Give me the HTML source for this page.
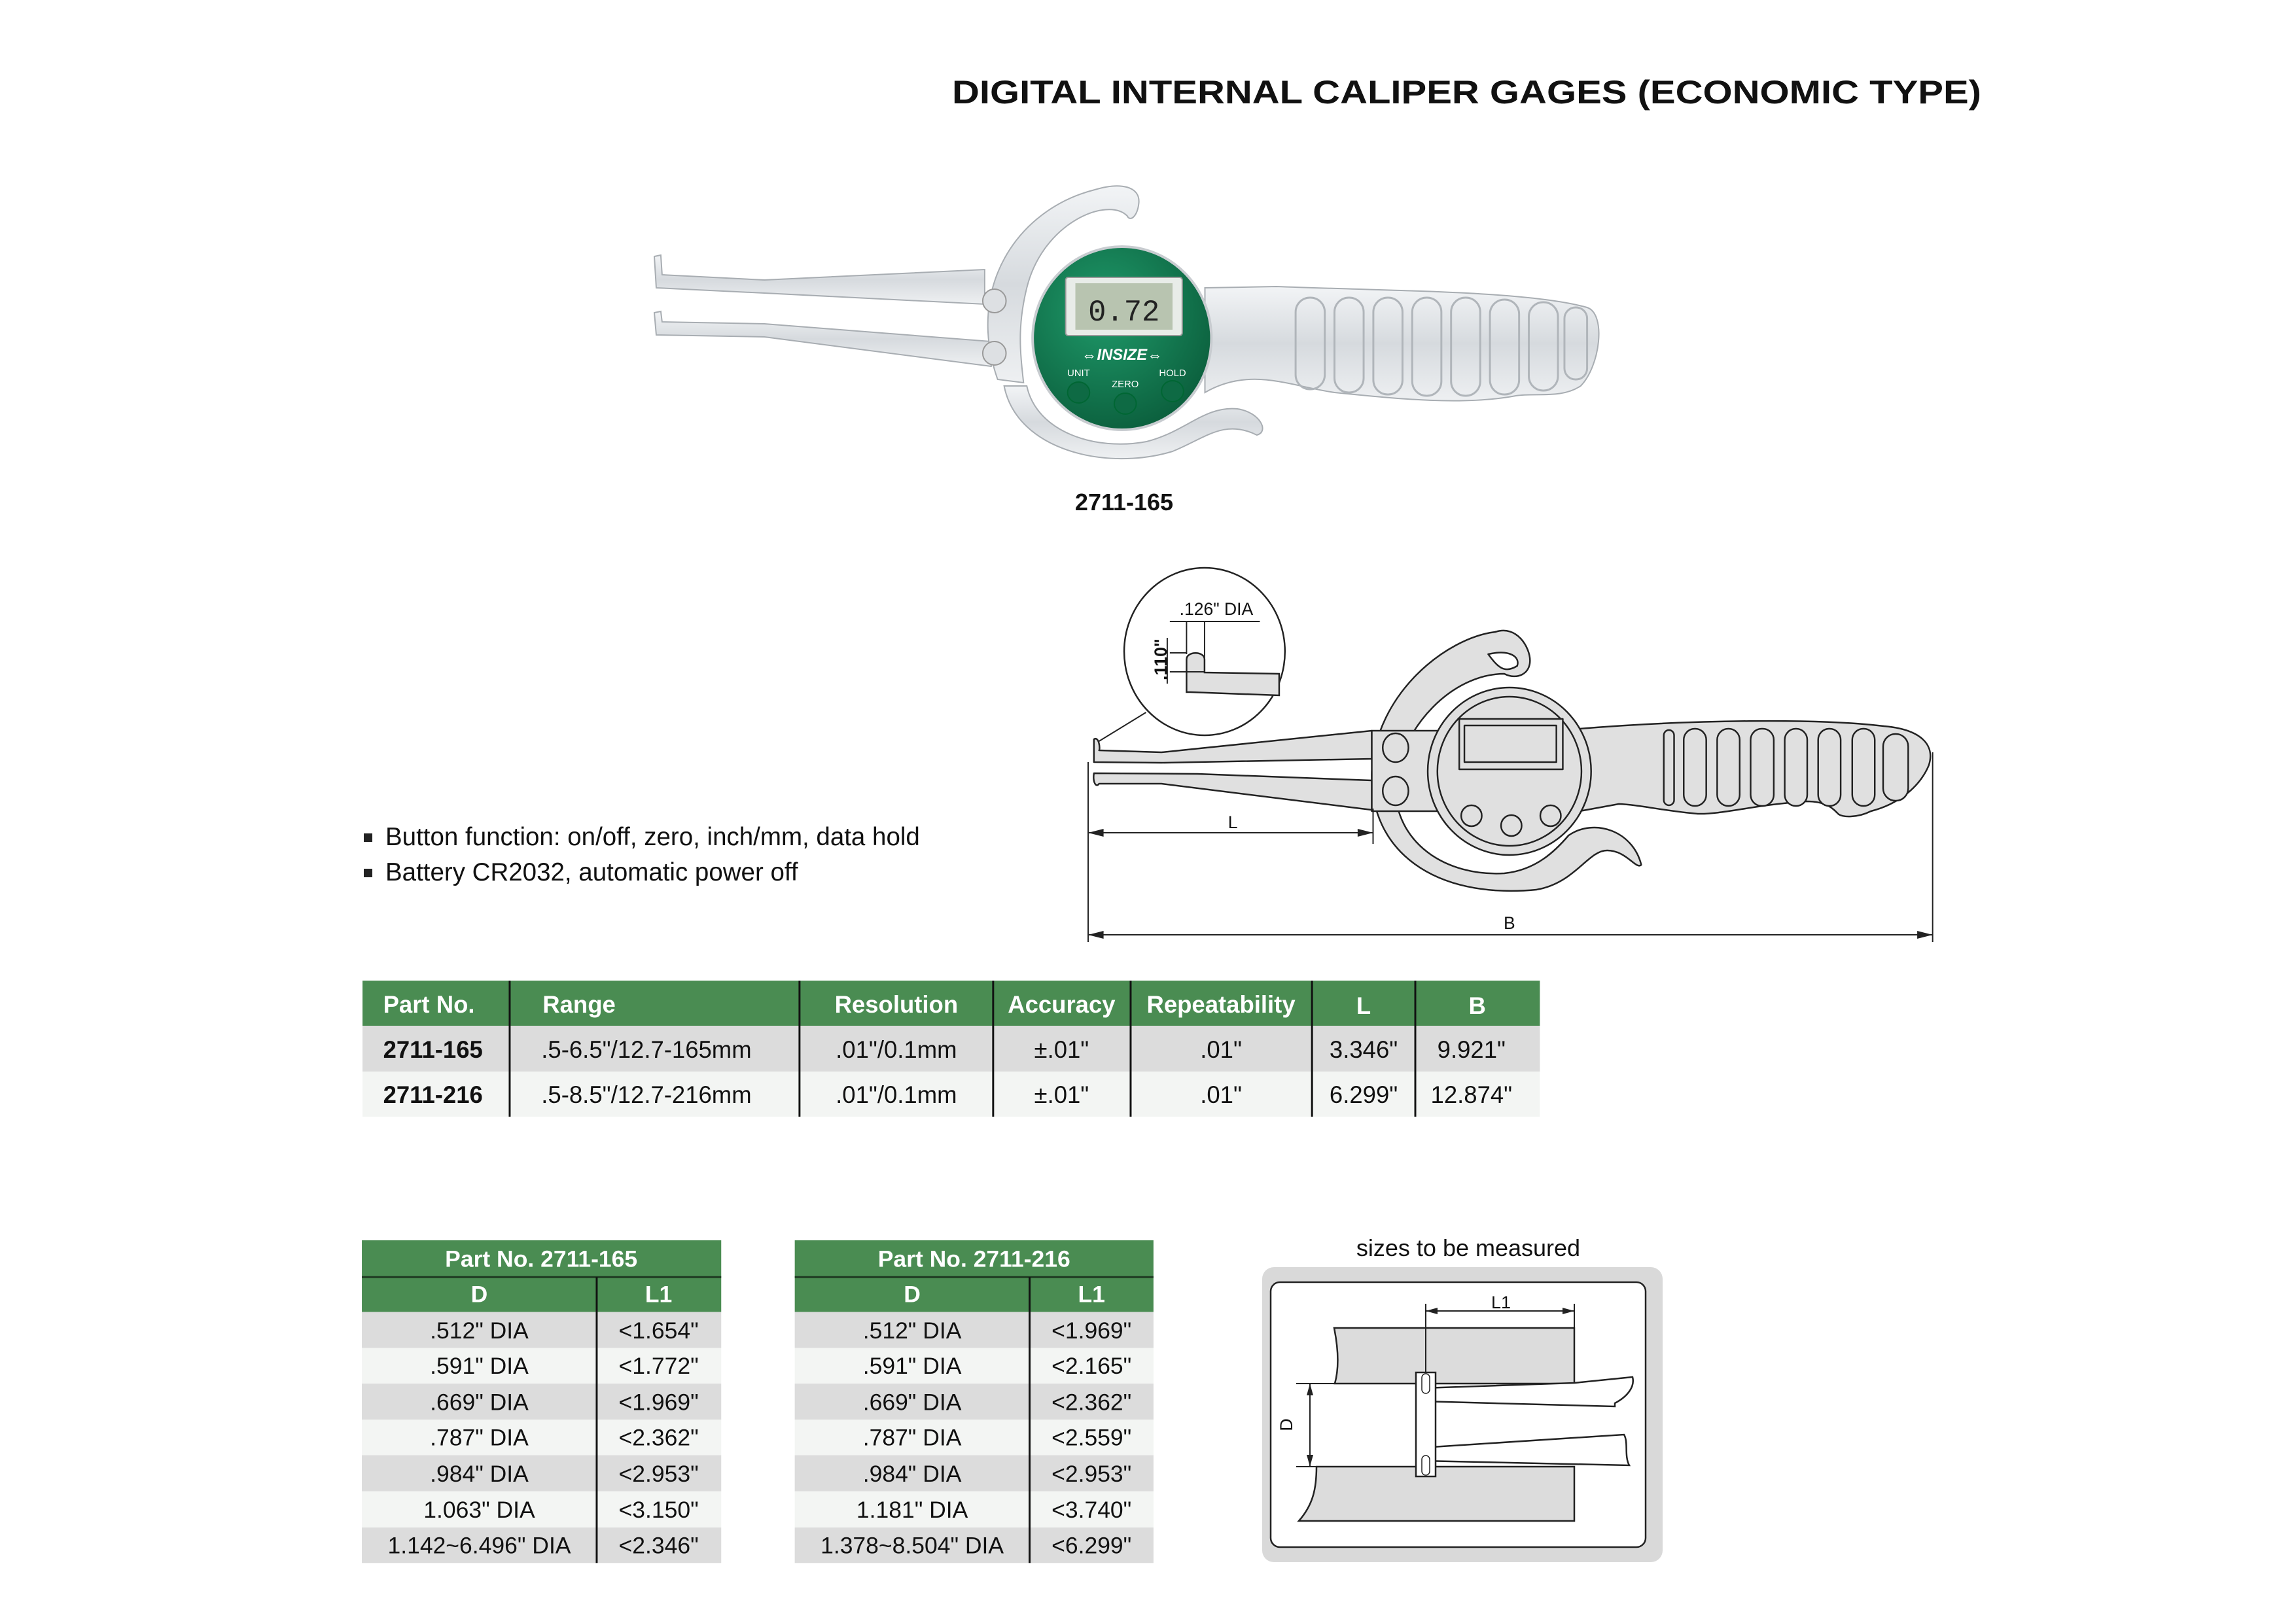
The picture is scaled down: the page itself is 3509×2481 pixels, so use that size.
<!DOCTYPE html>
<html><head><meta charset="utf-8"><style>html,body{margin:0;padding:0;background:#fff}svg{display:block}</style></head>
<body>
<svg xmlns="http://www.w3.org/2000/svg" width="3509" height="2481" viewBox="0 0 3509 2481" font-family="Liberation Sans, Arial, sans-serif">
<defs>
<radialGradient id="gr" cx="0.4" cy="0.35" r="0.7"><stop offset="0" stop-color="#1f9a6a"/><stop offset="1" stop-color="#0b5e3c"/></radialGradient>
<linearGradient id="met" x1="0" y1="0" x2="0" y2="1"><stop offset="0" stop-color="#f2f4f6"/><stop offset="0.5" stop-color="#d6dade"/><stop offset="1" stop-color="#eef0f2"/></linearGradient>
</defs>
<rect width="3509" height="2481" fill="#fff"/>
<text x="1455" y="158" font-size="50" font-weight="bold" textLength="1573" lengthAdjust="spacingAndGlyphs" fill="#111">DIGITAL INTERNAL CALIPER GAGES (ECONOMIC TYPE)</text>

<!-- PHOTO -->
<g transform="translate(1000,0) scale(0.99,1) translate(-1000,0)">
<g stroke="#a8adb2" stroke-width="2">
<path d="M1000,392 L1010,390 L1012,420 L1170,428 L1510,412 L1510,465 L1170,448 L1003,440 Z" fill="url(#met)"/>
<path d="M1000,478 L1010,476 L1012,492 L1170,495 L1520,522 L1520,560 L1170,515 L1003,512 Z" fill="url(#met)"/>
<path d="M1530,580 C1480,440 1560,320 1680,290 C1720,278 1750,285 1748,310 C1746,330 1735,340 1730,330 C1700,300 1600,340 1575,440 C1560,500 1565,540 1570,585 Z" fill="url(#met)"/>
<path d="M1540,590 C1560,690 1700,720 1800,690 C1850,670 1880,640 1930,665 C1950,660 1935,630 1900,625 C1850,620 1820,660 1760,675 C1680,690 1590,660 1575,590 Z" fill="url(#met)"/>
<path d="M1850,440 L1960,438 C2150,445 2350,445 2440,470 C2470,480 2460,560 2430,590 C2400,610 2360,600 2330,605 C2250,620 2150,610 2050,600 C1980,590 1920,560 1850,600 Z" fill="url(#met)"/>
</g>
<g fill="none" stroke="#b0b5ba" stroke-width="3">
<rect x="1990" y="455" width="45" height="140" rx="22"/><rect x="2050" y="455" width="45" height="145" rx="22"/>
<rect x="2110" y="455" width="45" height="148" rx="22"/><rect x="2170" y="455" width="45" height="150" rx="22"/>
<rect x="2230" y="455" width="45" height="150" rx="22"/><rect x="2290" y="458" width="45" height="145" rx="22"/>
<rect x="2350" y="462" width="45" height="135" rx="22"/><rect x="2405" y="470" width="35" height="110" rx="17"/>
</g>
<circle cx="1525" cy="460" r="18" fill="#dde0e3" stroke="#999" stroke-width="2"/>
<circle cx="1525" cy="540" r="18" fill="#dde0e3" stroke="#999" stroke-width="2"/>
<ellipse cx="1722" cy="517" rx="138" ry="140" fill="url(#gr)" stroke="#c8ccd0" stroke-width="4"/>
<rect x="1635" y="424" width="180" height="89" rx="4" fill="#e8ece8" stroke="#999" stroke-width="2"/>
<rect x="1650" y="433" width="150" height="71" fill="#b8c4b0"/>
<text x="1725" y="490" font-size="46" text-anchor="middle" fill="#222" font-family="Liberation Mono, monospace">0.72</text>
<text x="1722" y="550" font-size="24" font-weight="bold" font-style="italic" text-anchor="middle" fill="#fff">⇔INSIZE⇔</text>
<text x="1655" y="575" font-size="15" text-anchor="middle" fill="#fff">UNIT</text>
<text x="1727" y="592" font-size="15" text-anchor="middle" fill="#fff">ZERO</text>
<text x="1800" y="575" font-size="15" text-anchor="middle" fill="#fff">HOLD</text>
<g fill="#0e6a44" stroke="#063" stroke-width="2"><ellipse cx="1655" cy="600" rx="17" ry="16"/><ellipse cx="1727" cy="617" rx="17" ry="16"/><ellipse cx="1800" cy="598" rx="17" ry="16"/></g>
</g>
<text x="1718" y="780" font-size="36" font-weight="bold" text-anchor="middle" fill="#111">2711-165</text>

<!-- LINE DRAWING -->
<g transform="translate(1663,0) scale(0.983,1) translate(-1663,0)">
<g fill="#e0e0e0" stroke="#222" stroke-width="2.5" stroke-linejoin="round">
<path d="M2296,966 C2330,955 2350,990 2350,1010 C2350,1030 2330,1040 2310,1030 C2230,1030 2150,1110 2140,1200 C2140,1290 2220,1340 2310,1335 C2360,1330 2390,1300 2410,1277 C2450,1250 2510,1270 2523,1322 C2515,1330 2500,1300 2470,1300 C2440,1300 2420,1350 2360,1360 C2200,1375 2100,1300 2104,1180 C2110,1060 2220,975 2296,966 Z"/>
<path d="M2285,1000 C2320,992 2335,1005 2330,1018 C2310,1030 2300,1020 2285,1000 Z" fill="#fff"/>
<path d="M1672,1130 C1680,1125 1682,1145 1680,1147 L1777,1150 L2104,1117 L2104,1160 L1777,1166 L1672,1165 Z"/>
<path d="M1672,1182 L1833,1183 L2104,1193 L2104,1238 L2087,1236 L1777,1198 L1680,1198 C1675,1205 1670,1195 1672,1182 Z"/>
<path d="M2427,1114 C2600,1100 2800,1098 2900,1110 C2960,1115 2980,1140 2970,1170 C2955,1205 2920,1230 2880,1240 C2860,1250 2835,1250 2829,1244 C2820,1235 2810,1225 2780,1225 C2700,1230 2650,1245 2611,1244 C2560,1240 2520,1230 2488,1229 L2427,1240 Z"/>
<rect x="2104" y="1117" width="106" height="123"/>
<ellipse cx="2141" cy="1143" rx="20" ry="22"/><ellipse cx="2141" cy="1209" rx="20" ry="22"/>
<ellipse cx="2318" cy="1179" rx="127" ry="128"/>
<ellipse cx="2318" cy="1179" rx="112" ry="114"/>
<rect x="2240" y="1099" width="161" height="77"/><rect x="2248" y="1109" width="143" height="56"/>
<circle cx="2259" cy="1247" r="16"/><circle cx="2321" cy="1262" r="16"/><circle cx="2382" cy="1247" r="16"/>
<rect x="2558" y="1116" width="16" height="115" rx="8"/>
<rect x="2589" y="1114" width="35" height="118" rx="17"/><rect x="2641" y="1114" width="35" height="118" rx="17"/>
<rect x="2693" y="1114" width="36" height="118" rx="17"/><rect x="2746" y="1114" width="35" height="118" rx="17"/>
<rect x="2798" y="1114" width="35" height="118" rx="17"/><rect x="2851" y="1114" width="35" height="118" rx="17"/>
<rect x="2899" y="1122" width="39" height="102" rx="19"/>
</g>
<ellipse cx="1844" cy="996" rx="125" ry="128" fill="#fff" stroke="#222" stroke-width="2.5"/>
<path d="M1816,1058 L1816,1008 C1816,995 1844,995 1844,1008 L1844,1028 L1960,1030 L1960,1063 L1822,1058 Z" fill="#e0e0e0" stroke="#222" stroke-width="2.5"/>
<g stroke="#222" stroke-width="2" fill="#222">
<line x1="1816" y1="950" x2="1816" y2="1000"/><line x1="1844" y1="950" x2="1844" y2="1028"/>
<line x1="1790" y1="950" x2="1930" y2="950"/>
<line x1="1790" y1="998" x2="1816" y2="998"/><line x1="1790" y1="1027" x2="1844" y2="1027"/>
<line x1="1786" y1="975" x2="1786" y2="1045"/>
<line x1="1753" y1="1089" x2="1680" y2="1133"/>
</g>
<text x="1805" y="940" font-size="27" fill="#111">.126" DIA</text>
<text transform="translate(1785,1040) rotate(-90)" font-size="27" font-weight="bold" fill="#111">.110"</text>
<g stroke="#222" stroke-width="2">
<line x1="1663" y1="1165" x2="1663" y2="1440"/><line x1="2106" y1="1236" x2="2106" y2="1290"/><line x1="2976" y1="1150" x2="2976" y2="1440"/>
<line x1="1663" y1="1273" x2="2106" y2="1273"/><line x1="1663" y1="1429" x2="2976" y2="1429"/>
</g>
<g fill="#222"><path d="M1663,1273 l24,-6 v12 z"/><path d="M2106,1273 l-24,-6 v12 z"/><path d="M1663,1429 l24,-6 v12 z"/><path d="M2976,1429 l-24,-6 v12 z"/></g>
<text x="1888" y="1266" font-size="27" text-anchor="middle" fill="#111">L</text>
<text x="2318" y="1420" font-size="27" text-anchor="middle" fill="#111">B</text>
</g>

<!-- bullets -->
<rect x="556" y="1274" width="13" height="13" fill="#222"/>
<rect x="556" y="1328" width="13" height="13" fill="#222"/>
<text x="589" y="1292" font-size="38.5" fill="#111">Button function: on/off, zero, inch/mm, data hold</text>
<text x="589" y="1346" font-size="38.5" fill="#111">Battery CR2032, automatic power off</text>

<!-- MAIN TABLE -->
<g transform="translate(556,0) scale(0.9865,1) translate(-556,0)">
<rect x="554" y="1499" width="1824" height="69" fill="#4a8c52"/>
<rect x="554" y="1568" width="1824" height="70" fill="#dcdcdc"/>
<rect x="554" y="1638" width="1824" height="69" fill="#f3f5f3"/>
<g stroke="#111" stroke-width="3"><line x1="782" y1="1499" x2="782" y2="1707"/><line x1="1231" y1="1499" x2="1231" y2="1707"/><line x1="1531" y1="1499" x2="1531" y2="1707"/><line x1="1744" y1="1499" x2="1744" y2="1707"/><line x1="2025" y1="1499" x2="2025" y2="1707"/><line x1="2185" y1="1499" x2="2185" y2="1707"/></g>
<g font-size="37" font-weight="bold" fill="#fff">
<text x="586" y="1548">Part No.</text><text x="833" y="1548">Range</text>
<text x="1381" y="1548" text-anchor="middle">Resolution</text><text x="1637" y="1548" text-anchor="middle">Accuracy</text>
<text x="1884" y="1548" text-anchor="middle">Repeatability</text><text x="2105" y="1550" text-anchor="middle">L</text><text x="2281" y="1550" text-anchor="middle">B</text>
</g>
<g font-size="37" fill="#111">
<text x="586" y="1617" font-weight="bold">2711-165</text><text x="831" y="1617">.5-6.5"/12.7-165mm</text>
<text x="1381" y="1617" text-anchor="middle">.01"/0.1mm</text><text x="1637" y="1617" text-anchor="middle">±.01"</text>
<text x="1884" y="1617" text-anchor="middle">.01"</text><text x="2105" y="1617" text-anchor="middle">3.346"</text><text x="2272" y="1617" text-anchor="middle">9.921"</text>
<text x="586" y="1686" font-weight="bold">2711-216</text><text x="831" y="1686">.5-8.5"/12.7-216mm</text>
<text x="1381" y="1686" text-anchor="middle">.01"/0.1mm</text><text x="1637" y="1686" text-anchor="middle">±.01"</text>
<text x="1884" y="1686" text-anchor="middle">.01"</text><text x="2105" y="1686" text-anchor="middle">6.299"</text><text x="2272" y="1686" text-anchor="middle">12.874"</text>
</g>
</g>

<g transform="translate(556,1896) scale(0.986,0.9865) translate(-556,-1896)">
<!-- SMALL TABLE 1 -->
<g>
<rect x="553" y="1896" width="557" height="111" fill="#4a8c52"/>
<line x1="553" y1="1953" x2="1110" y2="1953" stroke="#1f3a22" stroke-width="3"/>
<rect x="553" y="2007" width="557" height="56" fill="#dcdcdc"/><rect x="553" y="2063" width="557" height="55" fill="#f3f5f3"/>
<rect x="553" y="2118" width="557" height="56" fill="#dcdcdc"/><rect x="553" y="2174" width="557" height="55" fill="#f3f5f3"/>
<rect x="553" y="2229" width="557" height="56" fill="#dcdcdc"/><rect x="553" y="2285" width="557" height="56" fill="#f3f5f3"/>
<rect x="553" y="2341" width="557" height="55" fill="#dcdcdc"/>
<line x1="917" y1="1953" x2="917" y2="2396" stroke="#111" stroke-width="3"/>
<g font-size="36" font-weight="bold" fill="#fff" text-anchor="middle"><text x="831" y="1937">Part No. 2711-165</text><text x="735" y="1992">D</text><text x="1013" y="1992">L1</text></g>
<g font-size="36" fill="#111" text-anchor="middle">
<text x="735" y="2048">.512" DIA</text><text x="1013" y="2048">&lt;1.654"</text>
<text x="735" y="2103">.591" DIA</text><text x="1013" y="2103">&lt;1.772"</text>
<text x="735" y="2159">.669" DIA</text><text x="1013" y="2159">&lt;1.969"</text>
<text x="735" y="2214">.787" DIA</text><text x="1013" y="2214">&lt;2.362"</text>
<text x="735" y="2270">.984" DIA</text><text x="1013" y="2270">&lt;2.953"</text>
<text x="735" y="2326">1.063" DIA</text><text x="1013" y="2326">&lt;3.150"</text>
<text x="735" y="2381">1.142~6.496" DIA</text><text x="1013" y="2381">&lt;2.346"</text>
</g>
</g>
<!-- SMALL TABLE 2 -->
<g>
<rect x="1224" y="1896" width="556" height="111" fill="#4a8c52"/>
<line x1="1224" y1="1953" x2="1780" y2="1953" stroke="#1f3a22" stroke-width="3"/>
<rect x="1224" y="2007" width="556" height="56" fill="#dcdcdc"/><rect x="1224" y="2063" width="556" height="55" fill="#f3f5f3"/>
<rect x="1224" y="2118" width="556" height="56" fill="#dcdcdc"/><rect x="1224" y="2174" width="556" height="55" fill="#f3f5f3"/>
<rect x="1224" y="2229" width="556" height="56" fill="#dcdcdc"/><rect x="1224" y="2285" width="556" height="56" fill="#f3f5f3"/>
<rect x="1224" y="2341" width="556" height="55" fill="#dcdcdc"/>
<line x1="1588" y1="1953" x2="1588" y2="2396" stroke="#111" stroke-width="3"/>
<g font-size="36" font-weight="bold" fill="#fff" text-anchor="middle"><text x="1502" y="1937">Part No. 2711-216</text><text x="1406" y="1992">D</text><text x="1684" y="1992">L1</text></g>
<g font-size="36" fill="#111" text-anchor="middle">
<text x="1406" y="2048">.512" DIA</text><text x="1684" y="2048">&lt;1.969"</text>
<text x="1406" y="2103">.591" DIA</text><text x="1684" y="2103">&lt;2.165"</text>
<text x="1406" y="2159">.669" DIA</text><text x="1684" y="2159">&lt;2.362"</text>
<text x="1406" y="2214">.787" DIA</text><text x="1684" y="2214">&lt;2.559"</text>
<text x="1406" y="2270">.984" DIA</text><text x="1684" y="2270">&lt;2.953"</text>
<text x="1406" y="2326">1.181" DIA</text><text x="1684" y="2326">&lt;3.740"</text>
<text x="1406" y="2381">1.378~8.504" DIA</text><text x="1684" y="2381">&lt;6.299"</text>
</g>
</g>
</g>

<!-- SIZES BOX -->
<g transform="translate(-13,0)">
<text x="2257" y="1920" font-size="36" text-anchor="middle" fill="#111">sizes to be measured</text>
<rect x="1942" y="1937" width="612" height="451" rx="18" fill="#d9d9d9"/>
<rect x="1955" y="1960" width="573" height="405" rx="14" fill="#fff" stroke="#222" stroke-width="2.5"/>
<g stroke="#222" stroke-width="2.5" fill="#dcdcdc">
<path d="M2052,2030 L2419,2030 L2419,2115 L2053,2115 C2060,2090 2058,2060 2052,2030 Z"/>
<path d="M2025,2242 L2419,2242 L2419,2325 L1998,2325 C2020,2300 2025,2275 2025,2242 Z"/>
<path d="M2186,2122 L2419,2114 L2508,2105 C2512,2120 2500,2135 2481,2145 L2481,2150 L2186,2142 Z" fill="#fff"/>
<path d="M2186,2213 L2495,2193 C2502,2205 2495,2225 2503,2240 L2186,2233 Z" fill="#fff"/>
<rect x="2177" y="2098" width="30" height="159" fill="#fff"/>
<rect x="2186" y="2100" width="12" height="30" rx="6" fill="#fff" stroke-width="1.5"/>
<rect x="2186" y="2225" width="12" height="30" rx="6" fill="#fff" stroke-width="1.5"/>
</g>
<g stroke="#222" stroke-width="2">
<line x1="2192" y1="1993" x2="2192" y2="2098"/><line x1="2419" y1="1993" x2="2419" y2="2030"/>
<line x1="2192" y1="2004" x2="2419" y2="2004"/>
<line x1="1994" y1="2115" x2="2052" y2="2115"/><line x1="1994" y1="2242" x2="2025" y2="2242"/>
<line x1="2015" y1="2115" x2="2015" y2="2242"/>
</g>
<g fill="#222"><path d="M2192,2004 l18,-5 v10 z"/><path d="M2419,2004 l-18,-5 v10 z"/><path d="M2015,2115 l-5,18 h10 z"/><path d="M2015,2242 l-5,-18 h10 z"/></g>
<text x="2307" y="2000" font-size="27" text-anchor="middle" fill="#111">L1</text>
<text transform="translate(1988,2178) rotate(-90)" font-size="27" text-anchor="middle" fill="#111">D</text>
</g>
</svg>
</body></html>
